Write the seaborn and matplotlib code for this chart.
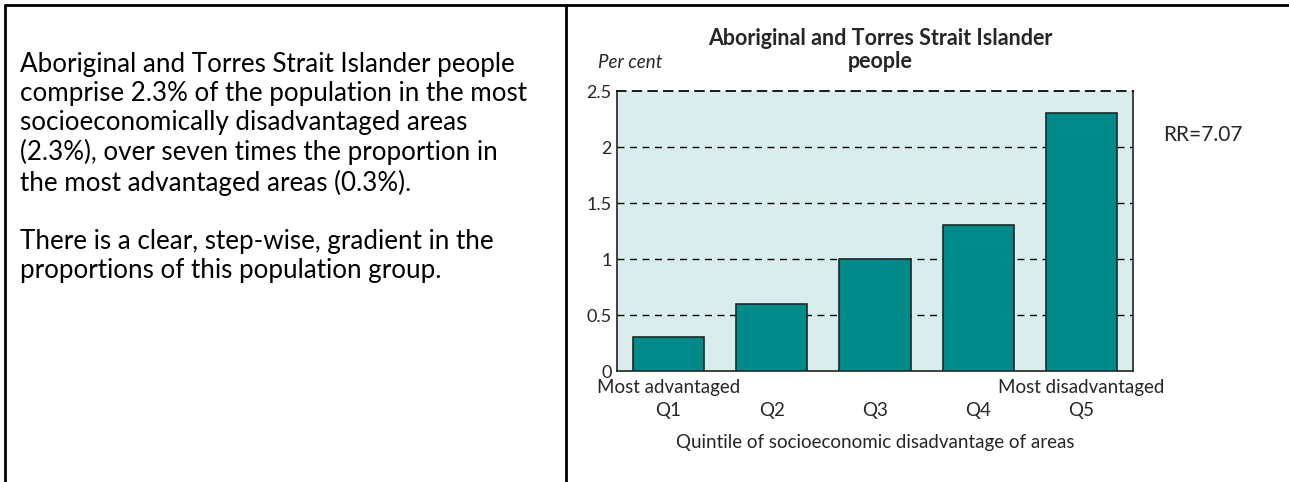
import matplotlib
matplotlib.use("Agg")
import matplotlib.pyplot as plt
import seaborn as sns
import pandas as pd
from matplotlib.lines import Line2D

sns.set_theme(style="white")
plt.rcParams["font.family"] = ["Lato", "DejaVu Sans"]

quintiles = ["Q1", "Q2", "Q3", "Q4", "Q5"]
values = [0.3, 0.6, 1.0, 1.3, 2.3]
yticks = [0, 0.5, 1, 1.5, 2, 2.5]
ytick_labels = ["0", "0.5", "1", "1.5", "2", "2.5"]
title = "Aboriginal and Torres Strait Islander\npeople"
rr_label = "RR=7.07"
end_labels = {"Q1": "Most advantaged", "Q5": "Most disadvantaged"}
paragraph = ("Aboriginal and Torres Strait Islander people\n"
             "comprise 2.3% of the population in the most\n"
             "socioeconomically disadvantaged areas\n"
             "(2.3%), over seven times the proportion in\n"
             "the most advantaged areas (0.3%).\n"
             "\n"
             "There is a clear, step-wise, gradient in the\n"
             "proportions of this population group.")

W, H = 1289, 482
fig = plt.figure(figsize=(W / 100, H / 100), dpi=100)
fig.patch.set_facecolor("white")

# frame lines
for xs, ys in [([5, W], [H - 5, H - 5]), ([5, 5], [0, H - 5]), ([566, 566], [0, H - 5])]:
    fig.add_artist(Line2D([x / W for x in xs], [y / H for y in ys],
                          color="black", lw=2, transform=fig.transFigure))

fig.text(20 / W, 1 - 52 / H, paragraph, ha="left", va="top", fontsize=18.7,
         linespacing=1.2, color="black")

ax = fig.add_axes([617 / W, 1 - 371 / H, (1133 - 617) / W, (371 - 91) / H])
df = pd.DataFrame({"quintile": quintiles, "value": values})
sns.barplot(data=df, x="quintile", y="value", color="#008a8a", saturation=1,
            width=0.69, edgecolor="#1a2a2a", linewidth=1.2, ax=ax, zorder=3)
ax.set_facecolor("#d9eeec")
ax.set_ylim(0, 2.5)
ax.set_xlim(-0.5, 4.5)
ax.set_yticks(yticks)
ax.set_yticklabels(ytick_labels, fontsize=13)
for y in yticks[1:-1]:
    ax.axhline(y, color="black", lw=1, ls=(0, (5, 4)), zorder=1)
for side in ["left", "right", "bottom"]:
    ax.spines[side].set_color("#222222")
    ax.spines[side].set_linewidth(1.2)
ax.spines["top"].set_linestyle((0, (5, 4)))
ax.spines["top"].set_color("black")
ax.tick_params(axis="both", length=0, pad=4)
ax.set_xticks(range(len(quintiles)))
ax.set_xticklabels(quintiles, fontsize=13.5)
ax.tick_params(axis="x", pad=22)
for q, lab in end_labels.items():
    ax.text(quintiles.index(q), -17 / 280, lab, ha="center", va="center", fontsize=13.5,
            transform=ax.get_xaxis_transform())
ax.set_xlabel("Quintile of socioeconomic disadvantage of areas", fontsize=13.5, labelpad=11)
ax.set_ylabel("")

fig.text(880 / W, 1 - 50 / H, title, ha="center", va="center", fontsize=15.5,
         fontweight="bold", linespacing=1.15)
fig.text(598 / W, 1 - 63 / H, "Per cent", ha="left", va="center", fontsize=13.5,
         style="italic")
fig.text(1163 / W, 1 - 135 / H, rr_label, ha="left", va="center", fontsize=15)

fig.savefig("out.png", dpi=100)
